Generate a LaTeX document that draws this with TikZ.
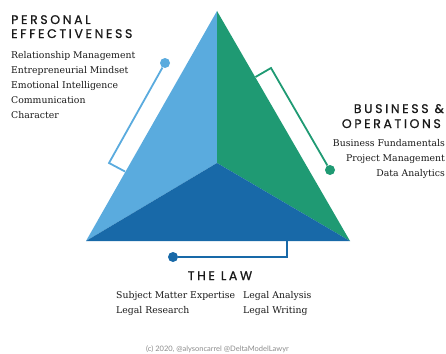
\documentclass[tikz,border=0pt]{standalone}
\usepackage{fontspec}
\setmainfont{DejaVu Serif}
\newfontfamily\headfont[LetterSpace=21,FakeBold=0.8]{Poppins}
\newfontfamily\notefont{Lato}
\definecolor{pelight}{HTML}{5AABDE}
\definecolor{bogreen}{HTML}{1F9A73}
\definecolor{lawblue}{HTML}{1869A8}

\begin{document}
\begin{tikzpicture}[x=1pt, y=-1pt,
  head/.style={font=\headfont\fontsize{12.5}{14}\selectfont, inner sep=0pt, text=black!90},
  item/.style={font=\fontsize{9.3}{11}\selectfont, inner sep=0pt, text=black!90},
  dot/.style={circle, fill, inner sep=0pt, minimum size=10pt},
  link/.style={line width=1.8pt}]
\useasboundingbox (0,0) rectangle (446,353);

%faces
\coordinate (top) at (217,11);
\coordinate (left) at (86,241);
\coordinate (right) at (350,241);
\coordinate (mid) at (217,163);
\fill[pelight] (top) -- (mid) -- (left) -- cycle;
\fill[bogreen] (top) -- (right) -- (mid) -- cycle;
\fill[lawblue] (left) -- (mid) -- (right) -- cycle;

%connectors
\node[dot, pelight] (pedot) at (165,63) {};
\coordinate (pebend) at (109,163);
\coordinate (peend) at (125,171.5);
\draw[link, pelight] (pedot) -- (pebend) -- (peend);

\node[dot, bogreen] (bodot) at (330,170) {};
\coordinate (bobend) at (271,68);
\coordinate (boend) at (255.5,77);
\draw[link, bogreen] (bodot) -- (bobend) -- (boend);

\node[dot, lawblue] (lawdot) at (173,257) {};
\coordinate (lawbend) at (287,257);
\coordinate (lawend) at (287,241);
\draw[link, lawblue] (lawdot) -- (lawbend) -- (lawend);

%personal effectiveness
\node[head, anchor=base west] (pehead1) at (11,24) {PERSONAL};
\node[head, anchor=base west] (pehead2) at (11,38) {EFFECTIVENESS};
\node[item, anchor=base west] (pe1) at (11,58) {Relationship Management};
\node[item, anchor=base west] (pe2) at (11,73) {Entrepreneurial Mindset};
\node[item, anchor=base west] (pe3) at (11,88) {Emotional Intelligence};
\node[item, anchor=base west] (pe4) at (11,103) {Communication};
\node[item, anchor=base west] (pe5) at (11,118) {Character};

%business and operations
\node[head, anchor=base east] (bohead1) at (444,113) {BUSINESS \&};
\node[head, anchor=base east] (bohead2) at (441,128) {OPERATIONS};
\node[item, anchor=base east] (bo1) at (445,146) {Business Fundamentals};
\node[item, anchor=base east] (bo2) at (445,161) {Project Management};
\node[item, anchor=base east] (bo3) at (445,176) {Data Analytics};

%the law
\node[head, anchor=base] (lawhead) at (220,280) {THE LAW};
\node[item, anchor=base west] (law1) at (116,298) {Subject Matter Expertise};
\node[item, anchor=base west] (law2) at (116,313) {Legal Research};
\node[item, anchor=base west] (law3) at (243,298) {Legal Analysis};
\node[item, anchor=base west] (law4) at (243,313) {Legal Writing};

\node[font=\notefont\fontsize{7.5}{9}\selectfont, text=black!45, inner sep=0pt, anchor=base] (credit) at (217.5,351) {(c) 2020, @alysoncarrel @DeltaModelLawyr};

\end{tikzpicture}
\end{document}
